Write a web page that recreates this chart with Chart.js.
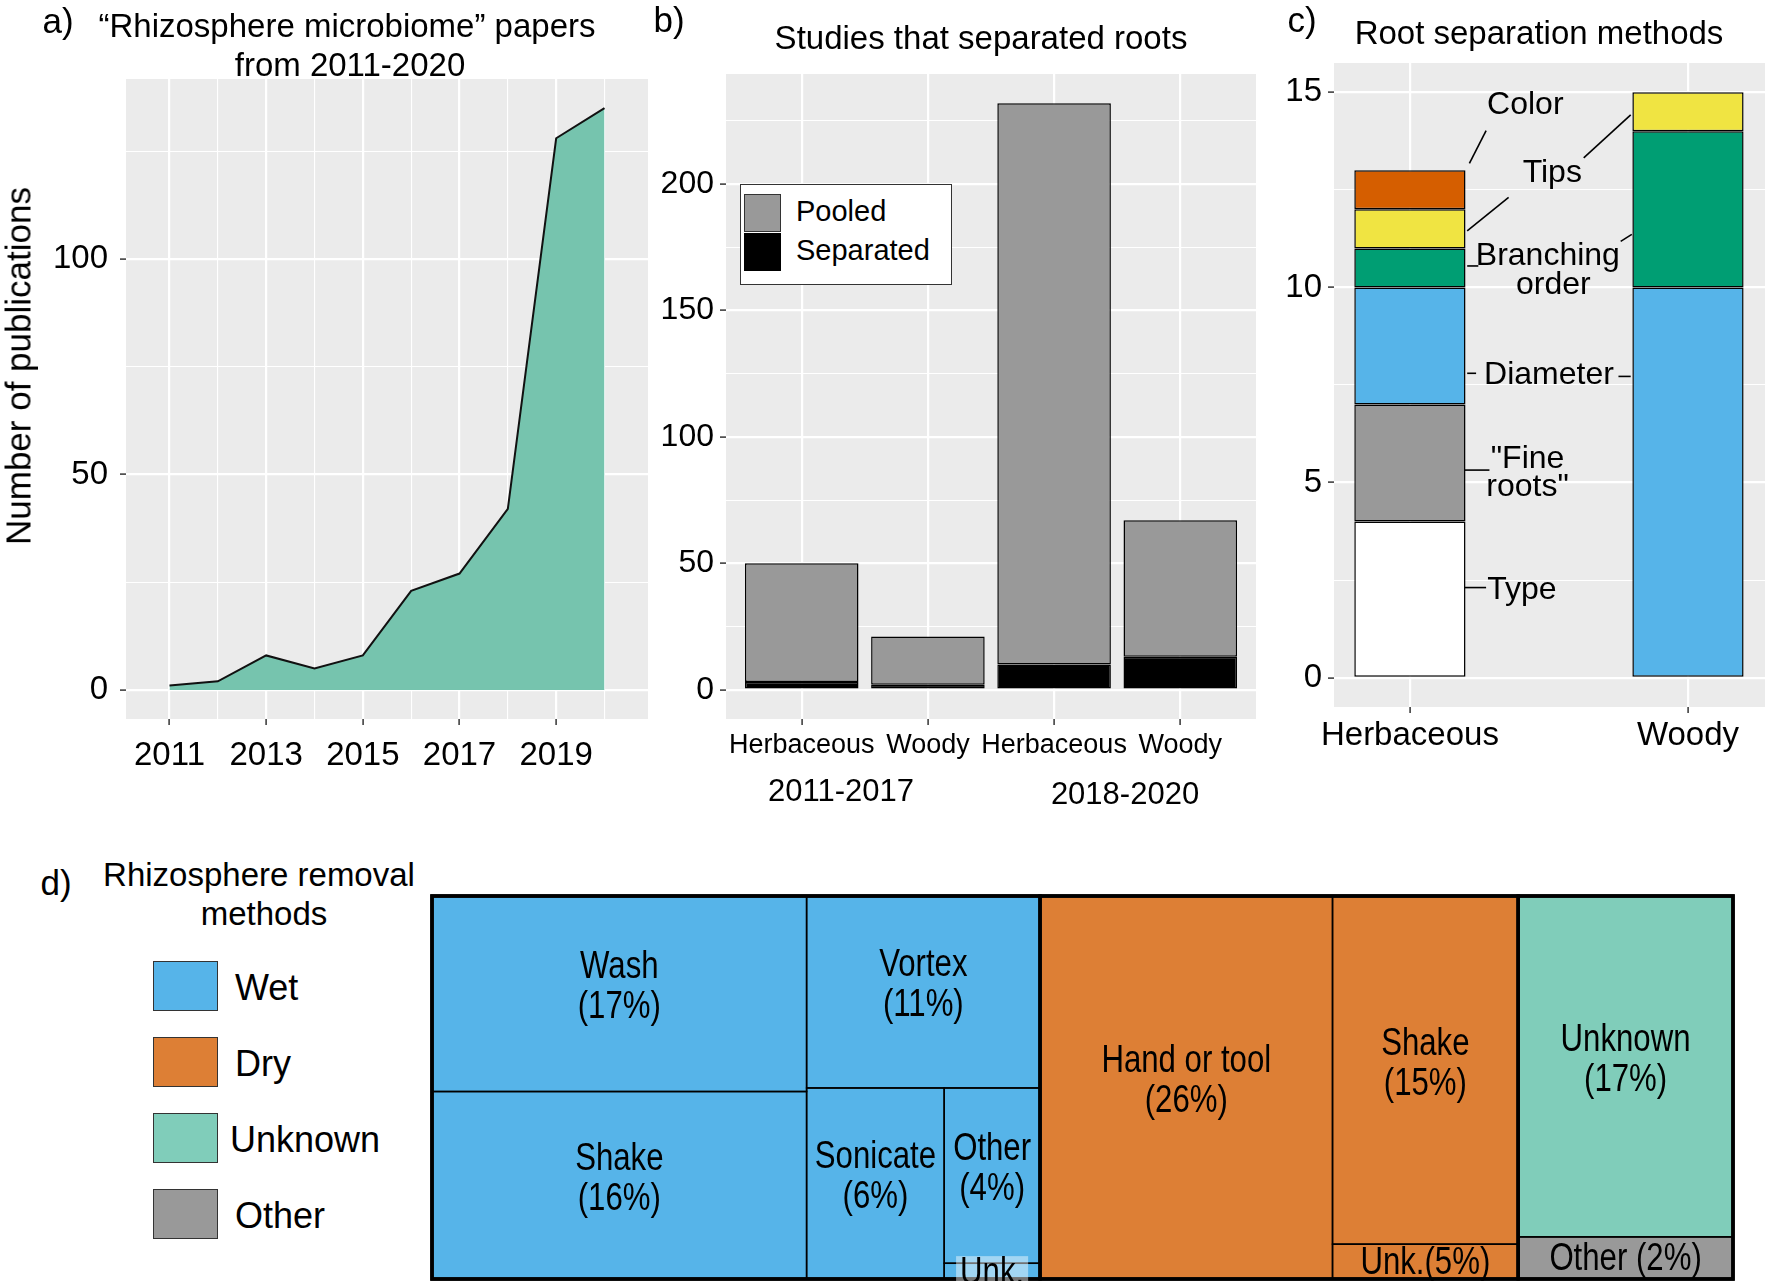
<!DOCTYPE html>
<html>
<head>
<meta charset="utf-8">
<title>Rhizosphere microbiome figure</title>
<script src="https://cdn.jsdelivr.net/npm/chart.js@4.4.0/dist/chart.umd.min.js"></script>
<style>
  body { margin: 0; background: #fff; }
  #fig { position: relative; width: 1768px; height: 1281px; overflow: hidden;
         font-family: 'Liberation Sans', Arial, Helvetica, sans-serif; color: #000; }
  #fig canvas { position: absolute; }
  .t  { position: absolute; white-space: nowrap; line-height: 1; transform: translate(-50%, -50%); }
  .tl { position: absolute; white-space: nowrap; line-height: 1; transform: translate(0, -50%); }
  .key { position: absolute; box-sizing: border-box; border: 1.5px solid #333; }
</style>
</head>
<body>
<div id="fig">
  <canvas id="chartA" width="700" height="790" style="left:0;top:0"></canvas>
  <canvas id="chartB" width="610" height="820" style="left:660px;top:0"></canvas>
  <canvas id="chartC" width="498" height="800" style="left:1270px;top:0"></canvas>
  <canvas id="chartD" width="1310" height="389" style="left:428px;top:892px"></canvas>

  <!-- panel labels and titles -->
  <div class="t" style="left:58px;top:20px;font-size:35px">a)</div>
  <div class="t" style="left:347px;top:25px;font-size:33px">“Rhizosphere microbiome” papers</div>
  <div class="t" style="left:350px;top:64px;font-size:33px">from 2011-2020</div>
  <div class="t" style="left:18px;top:366px;font-size:35px;transform:translate(-50%,-50%) rotate(-90deg)">Number of publications</div>

  <div class="t" style="left:669px;top:19px;font-size:35px">b)</div>
  <div class="t" style="left:981px;top:37px;font-size:33px">Studies that separated roots</div>
  <div class="t" id="periodA" style="left:841px;top:790px;font-size:31px"></div>
  <div class="t" id="periodB" style="left:1125px;top:793px;font-size:31px"></div>

  <div id="legB" style="position:absolute;left:740px;top:184px;width:212px;height:101px;background:#fff;border:1.5px solid #333;box-sizing:border-box"></div>
  <div class="key" style="left:744px;top:194px;width:37px;height:38px;background:#999999"></div>
  <div class="key" style="left:744px;top:233px;width:37px;height:38px;background:#000;border-color:#000"></div>
  <div class="tl" style="left:796px;top:211px;font-size:29px">Pooled</div>
  <div class="tl" style="left:796px;top:250px;font-size:29px">Separated</div>

  <div class="t" style="left:1302px;top:19px;font-size:35px">c)</div>
  <div class="t" style="left:1539px;top:32px;font-size:33px">Root separation methods</div>

  <div class="t" style="left:56px;top:882px;font-size:35px">d)</div>
  <div class="t" style="left:259px;top:874px;font-size:33px">Rhizosphere removal</div>
  <div class="t" style="left:264px;top:913px;font-size:33px">methods</div>
  <div id="legD"></div>
</div>

<script>
// ── Data ─────────────────────────────────────────────────────
const pubYears  = [2011, 2012, 2013, 2014, 2015, 2016, 2017, 2018, 2019, 2020];
const pubCounts = [1, 2, 8, 5, 8, 23, 27, 42, 128, 135];

const rootHabits     = ['Herbaceous', 'Woody', 'Herbaceous', 'Woody'];
const rootPeriods    = ['2011-2017', '2018-2020'];
const separatedRoots = [3, 2, 10, 13];
const pooledRoots    = [47, 19, 222, 54];

const sepHabits    = ['Herbaceous', 'Woody'];
const sepType      = [4, null];
const sepFineRoots = [3, null];
const sepDiameter  = [3, 10];
const sepBranching = [1, 4];
const sepTips      = [1, 1];
const sepColor     = [1, null];

const removalClasses = ['Wet', 'Dry', 'Unknown', 'Other'];
const wetLabels = ['Wash\n(17%)', 'Shake\n(16%)', 'Vortex\n(11%)', 'Sonicate\n(6%)', 'Other\n(4%)', 'Unk.'];
const wetValues = [17, 16.3, 10.4, 6.1, 3.9, 0.35];
const dryLabels = ['Hand or tool\n(26%)', 'Shake\n(15%)', 'Unk.(5%)'];
const dryValues = [26, 15, 1.5];
const unkLabels = ['Unknown\n(17%)', 'Other (2%)'];
const unkValues = [17, 2.1];
const unkClass  = ['Unknown', 'Other'];

// ── Styles ───────────────────────────────────────────────────
const FONT = "'Liberation Sans', Arial, Helvetica, sans-serif";
Chart.defaults.font.family = FONT;
Chart.defaults.color = '#000';
Chart.defaults.animation = false;

const PANEL_BG = '#EBEBEB';
const CLASS_COLORS = { Wet: '#56B4E9', Dry: '#DD7F35', Unknown: '#80CDBA', Other: '#999999' };

// grey panel behind the plot, like ggplot
const panelBg = {
  id: 'panelBg',
  beforeDraw(chart) {
    const { ctx, chartArea: a } = chart;
    ctx.save();
    ctx.fillStyle = PANEL_BG;
    ctx.fillRect(a.left, a.top, a.right - a.left, a.bottom - a.top);
    ctx.restore();
  }
};

const fixedTicks = values => scale => { scale.ticks = values.map(v => ({ value: v })); };

function gridOpts(isMajor) {
  return {
    color: '#fff',
    lineWidth: c => (c.tick && isMajor(c.tick.value)) ? 2.2 : 1.1,
    tickColor: c => (c.tick && isMajor(c.tick.value)) ? '#333' : 'rgba(0,0,0,0)',
    tickWidth: 1.5,
    tickLength: 6
  };
}

const noChrome = { legend: { display: false }, tooltip: { enabled: false } };

// ── a) publications per year ─────────────────────────────────
new Chart(document.getElementById('chartA'), {
  type: 'line',
  data: {
    datasets: [{
      data: pubYears.map((yr, i) => ({ x: yr, y: pubCounts[i] })),
      fill: 'origin',
      backgroundColor: '#76C4AE',
      borderColor: '#111',
      borderWidth: 2,
      pointRadius: 0,
      tension: 0
    }]
  },
  plugins: [panelBg],
  options: {
    responsive: false,
    layout: { padding: { left: 0, top: 79, right: 52, bottom: 11 } },
    plugins: noChrome,
    scales: {
      x: {
        type: 'linear', min: 2010.1, max: 2020.9,
        afterBuildTicks: fixedTicks(pubYears),
        afterFit: s => { s.height = 60; },
        border: { display: false },
        grid: gridOpts(v => (v - 2011) % 2 === 0),
        ticks: { autoSkip: false, maxRotation: 0, padding: 11, font: { size: 33 },
                 callback: v => (v - 2011) % 2 === 0 ? String(v) : '' }
      },
      y: {
        min: -6.75, max: 141.75,
        afterBuildTicks: fixedTicks([0, 25, 50, 75, 100, 125]),
        afterFit: s => { s.width = 126; },
        border: { display: false },
        grid: gridOpts(v => v % 50 === 0),
        ticks: { padding: 12, font: { size: 33 }, callback: v => v % 50 === 0 ? String(v) : '' }
      }
    }
  }
});

// ── b) studies that separated roots ──────────────────────────
const barStyle = { borderColor: '#000', borderWidth: 1.5, borderSkipped: false, categoryPercentage: 1 };

new Chart(document.getElementById('chartB'), {
  type: 'bar',
  data: {
    datasets: [
      { ...barStyle, label: 'Separated', backgroundColor: '#000', barPercentage: 0.9,
        data: separatedRoots.map((v, i) => ({ x: i, y: v })) },
      { ...barStyle, label: 'Pooled', backgroundColor: '#999999', barPercentage: 0.9,
        data: pooledRoots.map((v, i) => ({ x: i, y: v })) }
    ]
  },
  plugins: [panelBg],
  options: {
    responsive: false,
    layout: { padding: { left: 0, top: 74, right: 14, bottom: 41 } },
    plugins: noChrome,
    scales: {
      x: {
        type: 'linear', stacked: true, offset: false, min: -0.6, max: 3.6,
        afterBuildTicks: fixedTicks([0, 1, 2, 3]),
        afterFit: s => { s.height = 60; },
        border: { display: false },
        grid: { ...gridOpts(() => true), offset: false },
        ticks: { autoSkip: false, maxRotation: 0, padding: 4, font: { size: 27 },
                 callback: v => rootHabits[v] }
      },
      y: {
        stacked: true, min: -11.6, max: 243.6,
        afterBuildTicks: fixedTicks([0, 25, 50, 75, 100, 125, 150, 175, 200, 225]),
        afterFit: s => { s.width = 66; },
        border: { display: false },
        grid: gridOpts(v => v % 50 === 0),
        ticks: { padding: 6, font: { size: 32 }, callback: v => v % 50 === 0 ? String(v) : '' }
      }
    }
  }
});
document.getElementById('periodA').textContent = rootPeriods[0];
document.getElementById('periodB').textContent = rootPeriods[1];

// ── c) root separation methods ───────────────────────────────
// label text and leader lines, in data units of the chart
const rootNotes = [
  { text: [['Color', 0.415, 14.68]],                          lines: [[0.214, 13.18, 0.274, 14.02]] },
  { text: [['Tips', 0.512, 12.92]],                           lines: [[0.206, 11.45, 0.355, 12.31], [0.625, 13.32, 0.794, 14.42]] },
  { text: [['Branching', 0.496, 10.81], ['order', 0.516, 10.06]], lines: [[0.206, 10.55, 0.246, 10.55], [0.758, 11.18, 0.798, 11.36]] },
  { text: [['Diameter', 0.5, 7.75]],                          lines: [[0.206, 7.8, 0.238, 7.8], [0.75, 7.72, 0.794, 7.72]] },
  { text: [['"Fine', 0.423, 5.61], ['roots"', 0.423, 4.88]],  lines: [[0.198, 5.32, 0.286, 5.32]] },
  { text: [['Type', 0.403, 2.25]],                            lines: [[0.198, 2.31, 0.274, 2.31]] }
];

const notesPlugin = {
  id: 'rootNotes',
  afterDatasetsDraw(chart) {
    const { ctx } = chart, sx = chart.scales.x, sy = chart.scales.y;
    ctx.save();
    ctx.strokeStyle = '#000';
    ctx.lineWidth = 1.6;
    ctx.fillStyle = '#000';
    ctx.font = `32px ${FONT}`;
    ctx.textAlign = 'center';
    ctx.textBaseline = 'middle';
    rootNotes.forEach(n => {
      n.lines.forEach(([x0, y0, x1, y1]) => {
        ctx.beginPath();
        ctx.moveTo(sx.getPixelForValue(x0), sy.getPixelForValue(y0));
        ctx.lineTo(sx.getPixelForValue(x1), sy.getPixelForValue(y1));
        ctx.stroke();
      });
      n.text.forEach(([s, x, y]) => ctx.fillText(s, sx.getPixelForValue(x), sy.getPixelForValue(y)));
    });
    ctx.restore();
  }
};

const sepSeries = [
  ['Type', sepType, '#FFFFFF'],
  ['Fine roots', sepFineRoots, '#999999'],
  ['Diameter', sepDiameter, '#56B4E9'],
  ['Branching order', sepBranching, '#009E73'],
  ['Tips', sepTips, '#F0E442'],
  ['Color', sepColor, '#D55E00']
];

new Chart(document.getElementById('chartC'), {
  type: 'bar',
  data: {
    datasets: sepSeries.map(([label, vals, col]) => ({
      ...barStyle, label, backgroundColor: col, barPercentage: 0.4,
      data: vals.map((v, i) => ({ x: i, y: v }))
    }))
  },
  plugins: [panelBg, notesPlugin],
  options: {
    responsive: false,
    layout: { padding: { left: 0, top: 63, right: 3, bottom: 38 } },
    plugins: noChrome,
    scales: {
      x: {
        type: 'linear', stacked: true, offset: false, min: -0.273, max: 1.277,
        afterBuildTicks: fixedTicks([0, 1]),
        afterFit: s => { s.height = 55; },
        border: { display: false },
        grid: { ...gridOpts(() => true), offset: false },
        ticks: { autoSkip: false, maxRotation: 0, padding: 3, font: { size: 33 },
                 callback: v => sepHabits[v] }
      },
      y: {
        stacked: true, min: -0.75, max: 15.75,
        afterBuildTicks: fixedTicks([0, 2.5, 5, 7.5, 10, 12.5, 15]),
        afterFit: s => { s.width = 64; },
        border: { display: false },
        grid: gridOpts(v => v % 5 === 0),
        ticks: { padding: 6, font: { size: 33 }, callback: v => v % 5 === 0 ? String(v) : '' }
      }
    }
  }
});

// ── d) rhizosphere removal treemap ───────────────────────────
const treeGroups = {
  wet: { labels: wetLabels, values: wetValues, cls: () => 'Wet' },
  dry: { labels: dryLabels, values: dryValues, cls: () => 'Dry' },
  unk: { labels: unkLabels, values: unkValues, cls: i => unkClass[i] }
};

// nesting of the tiles: 'x' splits side by side, 'y' stacks
const TREE = ['x',
  ['x', ['y', 'wet:0', 'wet:1'], ['y', 'wet:2', ['x', 'wet:3', ['y', 'wet:4', 'wet:5']]]],
  ['x', 'dry:0', ['y', 'dry:1', 'dry:2']],
  ['y', 'unk:0', 'unk:1']
];

function leaf(ref) {
  const [g, i] = ref.split(':');
  return { g: treeGroups[g], i: +i, ref };
}
function nodeValue(n) {
  if (typeof n === 'string') { const l = leaf(n); return l.g.values[l.i]; }
  return n.slice(1).reduce((s, c) => s + nodeValue(c), 0);
}
function place(n, x0, y0, x1, y1, cells, groups, depth) {
  if (depth === 1) groups.push({ x0, y0, x1, y1 });
  if (typeof n === 'string') { cells.push({ ...leaf(n), x0, y0, x1, y1 }); return; }
  const total = nodeValue(n);
  let pos = n[0] === 'x' ? x0 : y0;
  n.slice(1).forEach(k => {
    const f = nodeValue(k) / total;
    if (n[0] === 'x') { const w = (x1 - x0) * f; place(k, pos, y0, pos + w, y1, cells, groups, depth + 1); pos += w; }
    else              { const h = (y1 - y0) * f; place(k, x0, pos, x1, pos + h, cells, groups, depth + 1); pos += h; }
  });
}

const treemapPlugin = {
  id: 'treemap',
  afterDraw(chart) {
    const { ctx } = chart, sx = chart.scales.x, sy = chart.scales.y;
    const cells = [], groups = [];
    place(TREE, 0, 0, 1, 1, cells, groups, 0);
    const box = r => {
      const l = sx.getPixelForValue(r.x0), t = sy.getPixelForValue(r.y0);
      return [l, t, sx.getPixelForValue(r.x1) - l, sy.getPixelForValue(r.y1) - t];
    };
    ctx.save();
    cells.forEach(c => { ctx.fillStyle = CLASS_COLORS[c.g.cls(c.i)]; ctx.fillRect(...box(c)); });
    ctx.strokeStyle = '#000';
    ctx.lineWidth = 1.5;
    cells.forEach(c => ctx.strokeRect(...box(c)));
    ctx.lineWidth = 3.5;
    groups.forEach(g => ctx.strokeRect(...box(g)));
    ctx.strokeRect(...box({ x0: 0, y0: 0, x1: 1, y1: 1 }));

    ctx.font = `38px ${FONT}`;
    ctx.textAlign = 'center';
    ctx.textBaseline = 'middle';
    const squeeze = 0.82, lh = 40;
    cells.forEach(c => {
      const [l, t, w, h] = box(c);
      const lines = c.g.labels[c.i].split('\n');
      const cx = l + w / 2;
      const cy = t + h / 2 + (lines.length > 1 ? -6 : 2);
      if (h < 30) {
        // tiny tile: label sits on a pale tag
        const tw = ctx.measureText(lines[0]).width * squeeze;
        ctx.fillStyle = 'rgba(255,255,255,0.45)';
        ctx.fillRect(cx - tw / 2 - 4, cy - 17, tw + 8, 34);
      }
      ctx.fillStyle = '#000';
      lines.forEach((s, k) => {
        ctx.save();
        ctx.translate(cx, cy + (k - (lines.length - 1) / 2) * lh);
        ctx.scale(squeeze, 1);
        ctx.fillText(s, 0, 0);
        ctx.restore();
      });
    });
    ctx.restore();
  }
};

new Chart(document.getElementById('chartD'), {
  type: 'scatter',
  data: { datasets: [{ data: [] }] },
  plugins: [treemapPlugin],
  options: {
    responsive: false,
    layout: { padding: { left: 4, top: 4, right: 5, bottom: 2 } },
    plugins: noChrome,
    scales: {
      x: { type: 'linear', min: 0, max: 1, display: false },
      y: { type: 'linear', min: 0, max: 1, reverse: true, display: false }
    }
  }
});

// legend for d
const legTops = [961, 1037, 1113, 1189];
document.getElementById('legD').innerHTML = removalClasses.map((c, i) =>
  `<div class="key" style="left:153px;top:${legTops[i]}px;width:65px;height:50px;background:${CLASS_COLORS[c]}"></div>` +
  `<div class="tl" style="left:${c === 'Unknown' ? 230 : 235}px;top:${legTops[i] + 27}px;font-size:36px">${c}</div>`
).join('');
</script>
</body>
</html>
